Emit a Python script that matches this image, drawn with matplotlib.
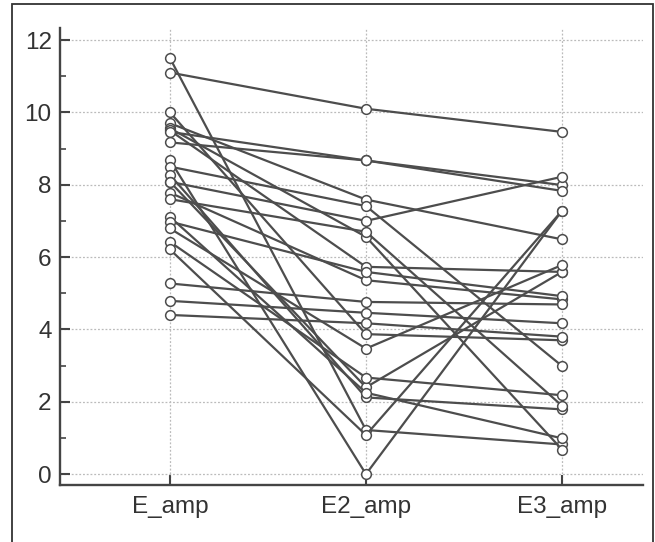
import matplotlib
matplotlib.use("Agg")
import matplotlib.pyplot as plt
from matplotlib.patches import Rectangle
from matplotlib.ticker import MultipleLocator

# Category axis labels
conditions = ["E_amp", "E2_amp", "E3_amp"]

# Per-subject amplitudes for each condition (same subject order in all three)
e_amp = [11.5, 11.1, 10.0, 9.7, 9.56, 9.5, 9.46, 9.17, 8.68, 8.50, 8.27, 8.08,
         8.08, 7.78, 7.60, 7.11, 6.98, 6.79, 6.42, 6.21, 5.27, 4.79, 4.40]
e2_amp = [1.22, 10.1, 3.87, 7.59, 6.56, 5.73, 8.67, 8.67, 0.0, 7.41, 2.12, 7.0,
          2.40, 5.36, 6.70, 2.25, 5.59, 3.47, 2.67, 1.08, 4.76, 4.46, 4.17]
e3_amp = [0.82, 9.46, 3.70, 6.49, 0.68, 5.59, 7.99, 7.83, 7.28, 2.99, 1.79, 8.22,
          5.59, 4.83, 1.89, 0.99, 4.92, 5.78, 2.18, 7.28, 4.69, 4.17, 3.80]

y_ticks = [0, 2, 4, 6, 8, 10, 12]

plt.rcParams["font.family"] = ["Liberation Sans", "DejaVu Sans"]

fig = plt.figure(figsize=(6.55, 5.42), dpi=100)
ax = fig.add_axes([0.0916, 0.1052, 0.890, 0.843])

line_col = "#4d4d4d"
x_pos = list(range(len(conditions)))
for a, b, c in zip(e_amp, e2_amp, e3_amp):
    ax.plot(x_pos, [a, b, c], color=line_col, lw=1.6, marker="o",
            markersize=7, markerfacecolor="white", markeredgecolor=line_col,
            markeredgewidth=1.1, zorder=3)

ax.set_xlim(-0.561, 2.413)
ax.set_ylim(-0.30, 12.33)
ax.set_xticks(x_pos)
ax.set_xticklabels(conditions)
ax.set_yticks(y_ticks)
ax.yaxis.set_minor_locator(MultipleLocator(1))

ax.grid(True, which="major", linestyle=(0, (1.5, 1.5)), color="#bbbbbb",
        linewidth=0.9, zorder=0)

for side in ("top", "right"):
    ax.spines[side].set_visible(False)
for side in ("left", "bottom"):
    ax.spines[side].set_color("#444444")
    ax.spines[side].set_linewidth(1.7)

ax.tick_params(axis="y", which="major", direction="in", length=7, width=1.5,
               color="#444444", labelsize=17.5, labelcolor="#333333", pad=6)
ax.tick_params(axis="y", which="minor", direction="in", length=4.5, width=1.2,
               color="#444444")
ax.tick_params(axis="x", which="major", direction="in", length=7, width=1.5,
               color="#444444", labelsize=17.5, labelcolor="#333333", pad=8)

# Outer frame around the figure
fig.patches.append(Rectangle((12 / 655, -0.05), (653 - 12) / 655, 1.05 - 4 / 542,
                             transform=fig.transFigure, fill=False,
                             edgecolor="#333333", linewidth=1.3))

fig.savefig("out.png", dpi=100)
